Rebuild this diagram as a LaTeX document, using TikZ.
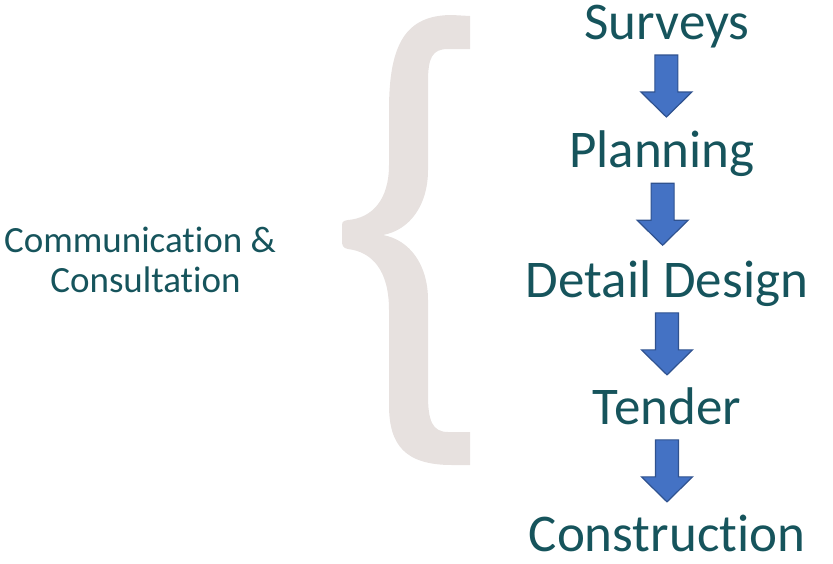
\documentclass[tikz,border=0pt]{standalone}
\usepackage{fontspec}
\setmainfont{Carlito}[Ligatures=NoCommon, Contextuals=NoAlternate]
\usetikzlibrary{calc}

\definecolor{stageteal}{RGB}{22,84,92}
\definecolor{bracegrey}{RGB}{231,225,223}
\definecolor{arrowfill}{RGB}{68,114,196}
\definecolor{arrowline}{RGB}{47,82,143}

\tikzstyle{stage} = [anchor=base, inner sep=0pt, text=stageteal, font=\fontsize{53}{60}\selectfont]
\tikzstyle{side} = [anchor=base, inner sep=0pt, text=stageteal, font=\fontsize{37}{40}\selectfont]
\tikzstyle{blockarrow} = [fill=arrowfill, draw=arrowline, line width=1.2pt, line join=miter]
\tikzstyle{brace} = [fill=bracegrey]

\begin{document}
\begin{tikzpicture}[x=1pt, y=-1pt]
  \useasboundingbox (0,0) rectangle (833,563);

  % the brace
  \fill[brace] (470,16) -- (452,15)
    .. controls (405,15) and (389,45) .. (389,110) -- (389,165)
    .. controls (389,200) and (372,218) .. (348,220)
    .. controls (342,221) and (342,222) .. (342,228) -- (342,240)
    .. controls (342,246) and (343,248) .. (348,249)
    .. controls (372,252) and (389,270) .. (389,310) -- (389,405)
    .. controls (389,445) and (405,465) .. (452,465) -- (470,465)
    -- (470,432) -- (448,432)
    .. controls (432,432) and (428,420) .. (428,395) -- (428,300)
    .. controls (428,265) and (410,240) .. (383,235)
    .. controls (410,230) and (428,205) .. (428,170) -- (428,82)
    .. controls (428,58) and (432,49) .. (448,49) -- (470,49) -- cycle;

  \node[side] (comm) at (140,252) {Communication \&};
  \node[side] (cons) at (145.5,292) {Consultation};

  \node[stage] (surveys) at (667,39) {Surveys};
  \node[stage] (planning) at (662,167) {Planning};
  \node[stage] (design) at (667,297) {Detail Design};
  \node[stage] (tender) at (667,424) {Tender};
  \node[stage] (construction) at (667,551) {Construction};

  \foreach \a/\b in {surveys/planning, planning/design, design/tender, tender/construction}
    \draw[blockarrow] ($(\a.base)!0.125!(\b.base)$) ++(-11.5,0) -- ++(23,0) -- ++(0,37)
      -- ++(14,0) -- ++(-25.5,25) -- ++(-25.5,-25) -- ++(14,0) -- cycle;
\end{tikzpicture}
\end{document}
